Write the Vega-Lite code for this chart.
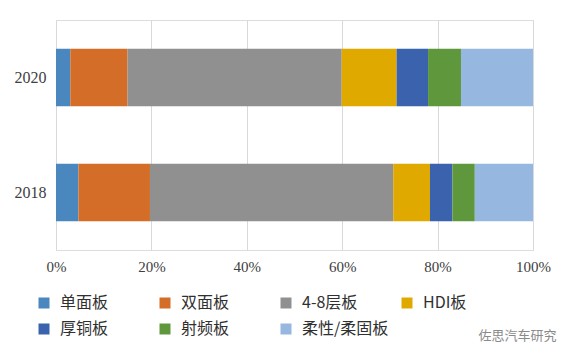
{
  "$schema": "https://vega.github.io/schema/vega-lite/v6.json",
  "width": 477,
  "height": 230,
  "autosize": {"type": "none"},
  "padding": {"left": 56, "top": 20, "right": 37, "bottom": 110},
  "background": "white",
  "data": {
    "values": [
      {"year": "2020", "type": "单面板", "share": 3.0},
      {"year": "2020", "type": "双面板", "share": 12.0},
      {"year": "2020", "type": "4-8层板", "share": 44.9},
      {"year": "2020", "type": "HDI板", "share": 11.5},
      {"year": "2020", "type": "厚铜板", "share": 6.6},
      {"year": "2020", "type": "射频板", "share": 6.9},
      {"year": "2020", "type": "柔性/柔固板", "share": 15.1},
      {"year": "2018", "type": "单面板", "share": 4.7},
      {"year": "2018", "type": "双面板", "share": 15.0},
      {"year": "2018", "type": "4-8层板", "share": 51.0},
      {"year": "2018", "type": "HDI板", "share": 7.7},
      {"year": "2018", "type": "厚铜板", "share": 4.7},
      {"year": "2018", "type": "射频板", "share": 4.7},
      {"year": "2018", "type": "柔性/柔固板", "share": 12.2}
    ]
  },
  "transform": [
    {"calculate": "indexof(['单面板','双面板','4-8层板','HDI板','厚铜板','射频板','柔性/柔固板'], datum.type)", "as": "ord"}
  ],
  "title": {
    "text": "佐思汽车研究",
    "orient": "bottom",
    "anchor": "end",
    "offset": 0,
    "dx": 6,
    "dy": -7,
    "font": "Noto Sans CJK SC",
    "fontSize": 13,
    "fontWeight": "normal",
    "color": "#8a8a8a"
  },
  "mark": {"type": "bar"},
  "encoding": {
    "y": {
      "field": "year",
      "type": "nominal",
      "sort": ["2020", "2018"],
      "scale": {"paddingInner": 0.5, "paddingOuter": 0.25},
      "axis": {
        "title": null,
        "ticks": false,
        "domain": false,
        "labelPadding": 10,
        "labelFont": "Liberation Serif",
        "labelFontSize": 16,
        "labelColor": "#404040"
      }
    },
    "x": {
      "field": "share",
      "type": "quantitative",
      "stack": "zero",
      "scale": {"domain": [0, 100], "nice": false},
      "axis": {
        "title": null,
        "values": [0, 20, 40, 60, 80, 100],
        "labelExpr": "datum.value + '%'",
        "labelFlush": false,
        "labelAlign": "center",
        "ticks": false,
        "domain": false,
        "grid": true,
        "gridColor": "#d9d9d9",
        "gridWidth": 1,
        "labelPadding": 9,
        "labelFont": "Liberation Serif",
        "labelFontSize": 15,
        "labelColor": "#404040"
      }
    },
    "order": {"field": "ord", "type": "quantitative", "sort": "ascending"},
    "color": {
      "field": "type",
      "type": "nominal",
      "sort": ["单面板", "双面板", "4-8层板", "HDI板", "厚铜板", "射频板", "柔性/柔固板"],
      "scale": {
        "domain": ["单面板", "双面板", "4-8层板", "HDI板", "厚铜板", "射频板", "柔性/柔固板"],
        "range": ["#4B87BF", "#D36D28", "#909090", "#E0A900", "#3A62AD", "#5F983C", "#96B7DF"]
      },
      "legend": {
        "title": null,
        "orient": "none",
        "direction": "horizontal",
        "legendX": -20,
        "legendY": 275,
        "columns": 4,
        "gridAlign": "all",
        "columnPadding": 10,
        "rowPadding": 10,
        "symbolType": "square",
        "symbolSize": 121,
        "symbolStrokeWidth": 0,
        "labelOffset": 8,
        "labelFont": "Noto Sans CJK SC",
        "labelFontSize": 16,
        "labelColor": "#303030",
        "labelLimit": 200
      }
    }
  }
}
